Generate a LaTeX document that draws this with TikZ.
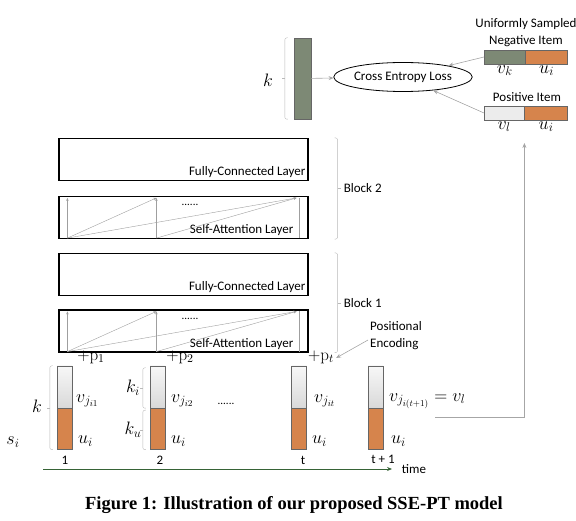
\RequirePackage{fix-cm}
\documentclass[tikz,border=0pt]{standalone}
\usepackage{amsmath}
\usepackage[no-math]{fontspec}
\setmainfont{Carlito}
\newfontfamily\capfont{Liberation Serif}
\usetikzlibrary{positioning,arrows.meta,calc,shapes.geometric}

\definecolor{vgreen}{RGB}{125,137,117}
\definecolor{uorange}{RGB}{214,132,76}

\begin{document}
\begin{tikzpicture}[
    x=1pt, y=-1pt,
    font=\fontsize{13}{17}\selectfont,
    >={Stealth[length=5pt, width=4pt]},
    layer/.style={draw, line width=1.2pt, minimum width=249pt, minimum height=42pt, inner sep=0pt},
    laytxt/.style={anchor=east, inner sep=0pt},
    bar/.style={draw=black!60, minimum width=15pt, inner sep=0pt},
    vpart/.style={bar, top color=gray!6, bottom color=gray!30, minimum height=42pt},
    upart/.style={bar, fill=uorange, minimum height=41pt},
    itm/.style={draw=black!60, minimum height=14pt, inner sep=0pt},
    att/.style={->, draw=gray!75, thin, >={Stealth[length=3pt, width=2.5pt]}},
    garr/.style={->, draw=gray!70, semithick},
    brk/.style={draw=gray!55, thin, rounded corners=2pt},
    loss/.style={draw, thick, ellipse, minimum width=108pt, minimum height=29pt, inner sep=0pt},
    mlab/.style={inner sep=0pt, font=\fontsize{18}{18}\selectfont},
    plab/.style={inner sep=0pt, font=\fontsize{17}{17}\selectfont},
    tlab/.style={inner sep=0pt},
  ]
  \useasboundingbox (0,0) rectangle (576,521);

  % ============ Uscita e loss (in alto) ============
  \node[draw=black!60, fill=vgreen, minimum width=17pt, minimum height=81pt, inner sep=0pt] (outvec) at (302.5,78.5) {};
  \draw[brk] ($(outvec.north west)+(-6,0)$) -| ($(outvec.south west)+(-9,0)$) -- ++(3,0);
  \draw[brk] ($(outvec.west)+(-9,0)$) -- ++(-3,0);
  \node[mlab] (kout) at (268,80) {$k$};

  \node[loss] (cel) at (403,77) {Cross Entropy Loss};
  \draw[garr] (outvec) -- (cel);

  \node[align=center, inner sep=0pt] (negtxt) at (526,33) {Uniformly Sampled\\Negative Item};
  \node[itm, fill=vgreen, minimum width=41pt, anchor=west] (negv) at (484,57) {};
  \node[itm, fill=uorange, minimum width=42pt, anchor=west] (negu) at (negv.east) {};
  \node[mlab, below=1pt of negv] (vk) {$v_k$};
  \node[mlab, below=1pt of negu] (uk) {$u_i$};

  \node[inner sep=0pt] (postxt) at (527,97) {Positive Item};
  \node[itm, fill=gray!15, minimum width=40pt, anchor=west] (posv) at (484,113) {};
  \node[itm, fill=uorange, minimum width=43pt, anchor=west] (posu) at (posv.east) {};
  \node[mlab, below=1pt of posv] (vl) {$v_l$};
  \node[mlab, below=1pt of posu] (ul) {$u_i$};

  \draw[garr] (negv.west) -- (cel.14);
  \draw[garr] (posv.west) -- (cel.-24);

  % ============ Blocchi ============
  \node[layer] (fc2) at (183.5,159.5) {};
  \node[laytxt] at ($(fc2.south east)+(-3,-9)$) {Fully-Connected Layer};
  \node[layer] (sa2) at (183.5,217.5) {};
  \node[laytxt] at ($(sa2.south east)+(-15,-9)$) {Self-Attention Layer};
  \node[inner sep=0pt, font=\fontsize{11}{11}\selectfont] (dots2) at (190,205) {......};

  \node[layer] (fc1) at (183.5,274.5) {};
  \node[laytxt] at ($(fc1.south east)+(-3,-9)$) {Fully-Connected Layer};
  \node[layer] (sa1) at (183.5,331) {};
  \node[laytxt] at ($(sa1.south east)+(-15,-9)$) {Self-Attention Layer};
  \node[inner sep=0pt, font=\fontsize{11}{11}\selectfont] (dots1) at (190,319) {......};

  % attenzione: frecce verticali e oblique dentro ogni strato
  \foreach \sa in {sa1,sa2}{
    \coordinate (\sa-b1) at ($(\sa.south west)+(9,-1)$);
    \coordinate (\sa-b2) at ($(\sa.south west)+(98,-1)$);
    \coordinate (\sa-b3) at ($(\sa.south east)+(-9,-1)$);
    \coordinate (\sa-t1) at ($(\sa.north west)+(9,2)$);
    \coordinate (\sa-t2) at ($(\sa.north west)+(98,2)$);
    \coordinate (\sa-t3) at ($(\sa.north east)+(-12,2)$);
    \draw[att] (\sa-b1) -- (\sa-t1);
    \draw[att] (\sa-b2) -- (\sa-t2);
    \draw[draw=gray!75, thin] (\sa-b3) -- ($(\sa.north east)+(-9,2)$);
    \draw[att] (\sa-b1) -- (\sa-t2);
    \draw[att] (\sa-b1) -- (\sa-t3);
    \draw[att] (\sa-b2) -- (\sa-t3);
  }

  % parentesi dei blocchi
  \draw[brk] ($(fc2.north east)+(26,0)$) -| ($(sa2.south east)+(29,0)$) -- ++(-3,0);
  \draw[brk] ($(fc2.north east)!0.5!(sa2.south east)+(29,0)$) -- ++(3,0)
        node[right=3pt, inner sep=0pt] (blk2) {Block 2};
  \draw[brk] ($(fc1.north east)+(26,0)$) -| ($(sa1.south east)+(29,0)$) -- ++(-3,0);
  \draw[brk] ($(fc1.north east)!0.5!(sa1.south east)+(29,0)$) -- ++(3,0)
        node[right=3pt, inner sep=0pt] (blk1) {Block 1};

  % ============ Ingressi (riga in basso) ============
  \node[vpart] (c1v) at (64.5,387) {};
  \node[upart, below=0pt of c1v] (c1u) {};
  \node[vpart] (c2v) at (157.5,387) {};
  \node[upart, below=0pt of c2v] (c2u) {};
  \node[vpart] (ctv) at (299,387) {};
  \node[upart, below=0pt of ctv] (ctu) {};
  \node[vpart] (cnv) at (375.5,387) {};
  \node[upart, below=0pt of cnv] (cnu) {};

  \node[plab] (p1) at (91,357) {$+\mathrm{p}_1$};
  \node[plab] (p2) at (180,357) {$+\mathrm{p}_2$};
  \node[plab] (pt) at (321,357) {$+\mathrm{p}_t$};

  \node[align=left, inner sep=0pt] (posenc) at (396,336) {Positional\\Encoding};
  \draw[garr] ($(posenc.west)+(-2,4)$) -- ($(pt.east)+(2,1)$);

  \node[mlab, anchor=west] (vj1) at (76,401) {$v_{j_{i1}}$};
  \node[mlab, anchor=west] (u1) at (78,441) {$u_i$};
  \node[mlab, anchor=west] (vj2) at (171,401) {$v_{j_{i2}}$};
  \node[mlab, anchor=west] (u2) at (171,441) {$u_i$};
  \node[inner sep=0pt, font=\fontsize{11}{11}\selectfont] (dotsc) at (226,404) {......};
  \node[mlab, anchor=west] (vjt) at (314,401) {$v_{j_{it}}$};
  \node[mlab, anchor=west] (ut) at (312,441) {$u_i$};
  \node[mlab, anchor=west] (vjn) at (389,401) {$v_{j_{i(t+1)}} = v_l$};
  \node[mlab, anchor=west] (un) at (391,441) {$u_i$};

  % parentesi delle colonne
  \draw[brk] ($(c1v.north west)+(-4,0)$) -| ($(c1u.south west)+(-7,0)$) -- ++(3,0);
  \draw[brk] ($(c1v.south west)+(-7,0)$) -- ++(-3,0);
  \node[mlab] (kcol) at (37,406) {$k$};
  \node[mlab] (si) at (13,442) {$s_i$};

  \draw[brk] ($(c2v.north west)+(-4,2)$) -| ($(c2v.south west)+(-7,0)$) -- ++(3,0);
  \draw[brk] ($(c2v.west)+(-7,1)$) -- ++(-3,0);
  \draw[brk] ($(c2u.north west)+(-4,2)$) -| ($(c2u.south west)+(-7,0)$) -- ++(3,0);
  \draw[brk] ($(c2u.west)+(-7,1)$) -- ++(-3,0);
  \node[mlab] (ki) at (133,388) {$k_i$};
  \node[mlab] (ku) at (133,430) {$k_u$};

  \node[tlab] (n1) at (65,460) {1};
  \node[tlab] (n2) at (160,460) {2};
  \node[tlab] (nt) at (303,460) {t};
  \node[tlab] (nn) at (383,459) {t + 1};

  % asse del tempo
  \coordinate (tstart) at (43,469);
  \coordinate (tend) at (392,469);
  \draw[->, draw=gray!70!green!60!black, line width=1pt] (tstart) -- (tend);
  \node[tlab] (time) at (414,469) {time};

  % l'elemento successivo diventa l'item positivo
  \coordinate (vlout) at (435,417);
  \coordinate (vlin) at (posv.east |- 0,143);
  \draw[garr, rounded corners=0pt] (vlout) -| (vlin);

  % ============ Didascalia ============
  \node[font=\capfont\bfseries\fontsize{18.5}{20}\selectfont, inner sep=0pt] (cap) at (294,505)
        {Figure 1: Illustration of our proposed SSE-PT model};

\end{tikzpicture}
\end{document}
